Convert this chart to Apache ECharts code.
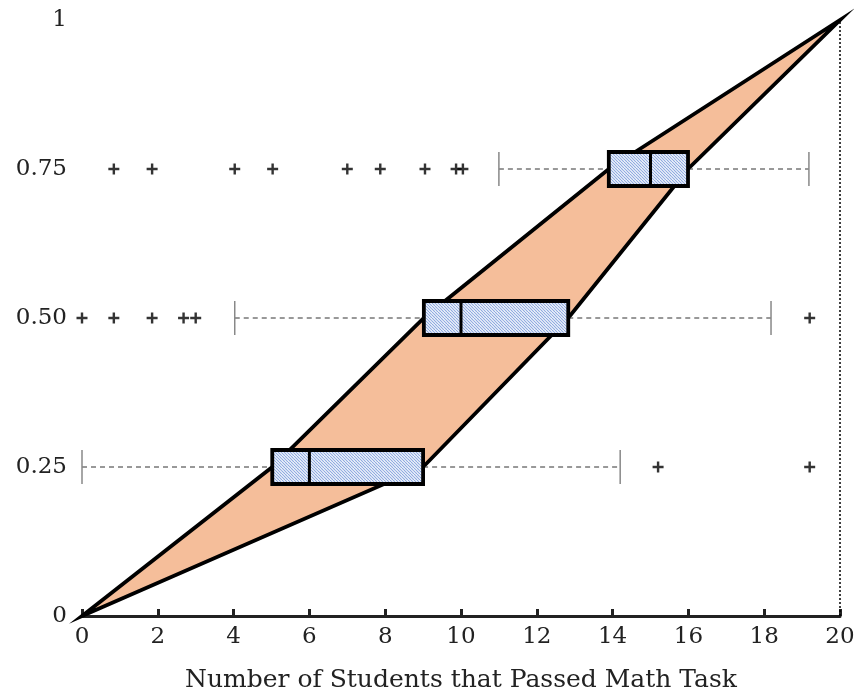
<!DOCTYPE html>
<html>
<head>
<meta charset="utf-8">
<script src="https://cdn.jsdelivr.net/npm/echarts@6/dist/echarts.min.js"></script>
<style>
  html, body { margin: 0; padding: 0; background: #fff; }
  #chart { width: 854px; height: 696px; }
</style>
</head>
<body>
<div id="chart"></div>
<script>
const levels = [0.25, 0.5, 0.75]
const whiskerLow = [0, 4.03, 11.0]
const q1 = [5.02, 9.02, 13.9]
const median = [6.0, 10.0, 15.0]
const q3 = [9.0, 12.83, 15.99]
const whiskerHigh = [14.2, 18.18, 19.18]
const outliers25 = [15.2, 19.2]
const outliers50 = [0, 0.84, 1.85, 2.68, 3.0, 19.2]
const outliers75 = [0.84, 1.85, 4.03, 5.03, 7.0, 7.87, 9.05, 9.87, 10.05]
const startPoint = [0, 0]
const endPoint = [20, 1]
const yTickValues = [0, 0.25, 0.5, 0.75, 1]
const yTickLabels = ['0', '0.25', '0.50', '0.75', '1']

const font = 'DejaVu Serif'

// hatch pattern for the boxes
const hatch = document.createElement('canvas')
hatch.width = 6
hatch.height = 6
const hc = hatch.getContext('2d')
hc.fillStyle = '#fff'
hc.fillRect(0, 0, 6, 6)
hc.strokeStyle = '#8eaae0'
hc.lineWidth = 1.2
for (let k = -6; k <= 6; k += 3) {
  hc.beginPath()
  hc.moveTo(k, 0)
  hc.lineTo(k + 6, 6)
  hc.stroke()
}

const upperEdge = [startPoint, ...levels.map((l, i) => [q1[i], l]), endPoint]
const lowerEdge = [startPoint, ...levels.map((l, i) => [q3[i], l]), endPoint]
const boxData = levels.map((l, i) => [l, whiskerLow[i], q1[i], median[i], q3[i], whiskerHigh[i]])
const outlierData = [
  ...outliers25.map(x => [x, 0.25]),
  ...outliers50.map(x => [x, 0.5]),
  ...outliers75.map(x => [x, 0.75])
]

const half = 17

const option = {
  animation: false,
  grid: { left: 82, right: 14, top: 20, bottom: 80, outerBoundsMode: 'none' },
  xAxis: {
    type: 'value',
    min: 0,
    max: 20,
    interval: 2,
    axisLine: { lineStyle: { color: '#222', width: 3 } },
    axisTick: { inside: true, length: 7, lineStyle: { color: '#222', width: 3 } },
    splitLine: { show: false },
    axisLabel: { fontFamily: font, fontSize: 23, color: '#222', margin: 10 },
    name: 'Number of Students that Passed Math Task',
    nameLocation: 'middle',
    nameGap: 52,
    nameTextStyle: { fontFamily: font, fontSize: 25, color: '#222' }
  },
  yAxis: {
    type: 'value',
    min: 0,
    max: 1,
    interval: 0.25,
    axisLine: { show: false },
    axisTick: { show: false },
    splitLine: { show: false },
    axisLabel: {
      fontFamily: font, fontSize: 23, color: '#222', margin: 15,
      formatter: v => yTickLabels[yTickValues.indexOf(v)]
    }
  },
  series: [
    {
      type: 'line',
      data: [[endPoint[0], 0], endPoint],
      symbol: 'none',
      lineStyle: { color: '#000', width: 1.5, type: [2, 2] },
      z: 1
    },
    {
      type: 'custom',
      data: [[0, 0]],
      z: 2,
      renderItem: (params, api) => {
        const pts = upperEdge.map(p => api.coord(p))
          .concat(lowerEdge.slice(1, -1).reverse().map(p => api.coord(p)))
        return {
          type: 'polygon',
          shape: { points: pts },
          style: { fill: '#f5be9a', stroke: '#000', lineWidth: 3.8, lineJoin: 'miter' }
        }
      }
    },
    {
      type: 'custom',
      data: boxData,
      z: 3,
      renderItem: (params, api) => {
        const y = api.value(0)
        const lo = api.coord([api.value(1), y])
        const a = api.coord([api.value(2), y])
        const m = api.coord([api.value(3), y])
        const b = api.coord([api.value(4), y])
        const hi = api.coord([api.value(5), y])
        const dash = { stroke: '#333', lineWidth: 1, lineDash: [5, 4] }
        const cap = { stroke: '#888', lineWidth: 1.5 }
        return {
          type: 'group',
          children: [
            { type: 'line', shape: { x1: lo[0], y1: lo[1], x2: a[0], y2: a[1] }, style: dash },
            { type: 'line', shape: { x1: b[0], y1: b[1], x2: hi[0], y2: hi[1] }, style: dash },
            { type: 'line', shape: { x1: lo[0], y1: lo[1] - half, x2: lo[0], y2: lo[1] + half }, style: cap },
            { type: 'line', shape: { x1: hi[0], y1: hi[1] - half, x2: hi[0], y2: hi[1] + half }, style: cap },
            {
              type: 'rect',
              shape: { x: a[0], y: a[1] - half, width: b[0] - a[0], height: 2 * half },
              style: { fill: { image: hatch, repeat: 'repeat' }, stroke: '#000', lineWidth: 3.8 }
            },
            { type: 'line', shape: { x1: m[0], y1: m[1] - half, x2: m[0], y2: m[1] + half }, style: { stroke: '#000', lineWidth: 3 } }
          ]
        }
      }
    },
    {
      type: 'scatter',
      data: outlierData,
      symbol: 'path://M3.9,0H6.1V3.9H10V6.1H6.1V10H3.9V6.1H0V3.9H3.9Z',
      symbolSize: 11,
      itemStyle: { color: '#000' },
      z: 4
    }
  ]
}

const chart = echarts.init(document.getElementById('chart'))
chart.setOption(option)
</script>
</body>
</html>
